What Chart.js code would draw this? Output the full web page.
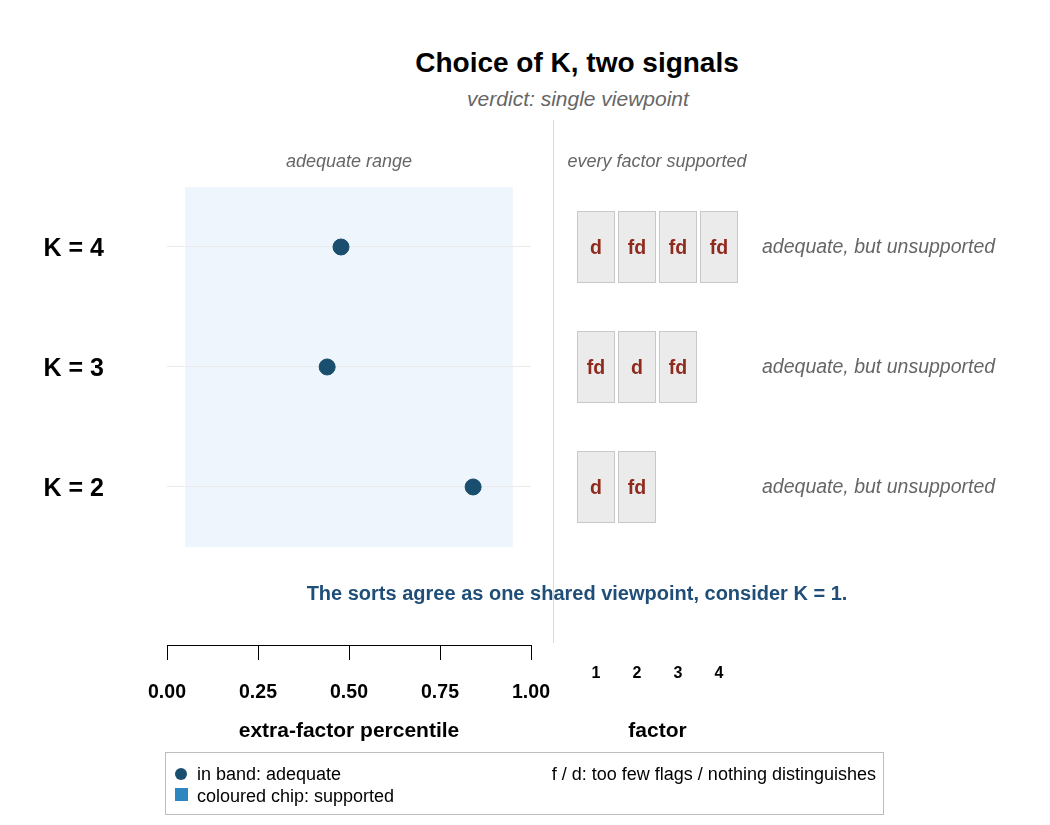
<!DOCTYPE html>
<html lang="en">
<head>
    <meta charset="UTF-8">
    <title>Choice of K, two signals</title>
    <script src="https://cdn.jsdelivr.net/npm/chart.js"></script>
    <style>
        body {
            margin: 0;
            width: 1050px;
            height: 825px;
            position: relative;
            background: #fff;
            font-family: "Liberation Sans", Arial, sans-serif;
            overflow: hidden;
        }
        .txt {
            position: absolute;
            white-space: nowrap;
            transform: translate(-50%, -50%);
        }
        #title { left: 577px; top: 63px; font-size: 28px; font-weight: bold; color: #000; }
        #subtitle { left: 578px; top: 99px; font-size: 21px; font-style: italic; color: #666; }
        #message { left: 577px; top: 593px; font-size: 20px; font-weight: bold; color: #1f4e79; }
        #sep {
            position: absolute; left: 553px; top: 120px; width: 1px; height: 523px;
            background: #d9d9d9;
        }
        canvas { position: absolute; top: 0; }
        #leftChart { left: 0; }
        #rightChart { left: 550px; }
        .legend {
            position: absolute; left: 165px; top: 752px; width: 717px; height: 61px;
            border: 1px solid #bdbdbd; font-size: 18px; color: #000;
        }
        .legend span { position: absolute; white-space: nowrap; line-height: 20px; }
        .dot { width: 12px; height: 12px; border-radius: 50%; background: #1a4e6e; }
        .sq { width: 13px; height: 13px; background: #2e86c1; }
    </style>
</head>
<body>
    <div id="title" class="txt">Choice of K, two signals</div>
    <div id="subtitle" class="txt">verdict: single viewpoint</div>
    <div id="sep"></div>
    <canvas id="leftChart" width="550" height="825"></canvas>
    <canvas id="rightChart" width="500" height="825"></canvas>
    <div id="message" class="txt">The sorts agree as one shared viewpoint, consider K = 1.</div>
    <div class="legend">
        <span class="dot" style="left:9px; top:15px;"></span>
        <span style="left:31px; top:11px;">in band: adequate</span>
        <span class="sq" style="left:9px; top:35px;"></span>
        <span style="left:31px; top:33px;">coloured chip: supported</span>
        <span style="right:7px; top:11px;">f / d: too few flags / nothing distinguishes</span>
    </div>

<script>
    // rows (K) and the extra-factor percentile for each
    const kValues = [4, 3, 2];
    const percentiles = [0.478, 0.44, 0.841];
    const bandRange = [0.05, 0.95];
    const xTicks = [0, 0.25, 0.5, 0.75, 1];

    // factor chips per row
    const factorLabels = ['1', '2', '3', '4'];
    const chipFlagsK4 = ['d', 'fd', 'fd', 'fd'];
    const chipFlagsK3 = ['fd', 'd', 'fd'];
    const chipFlagsK2 = ['d', 'fd'];
    const rowNotes = ['adequate, but unsupported', 'adequate, but unsupported', 'adequate, but unsupported'];

    const FONT = '"Liberation Sans", Arial, sans-serif';
    const yMin = 0.683, yMax = 4.5;

    // shaded adequate band, drawn under the grid
    const bandPlugin = {
        id: 'band',
        beforeDraw(chart) {
            const x = chart.scales.x, y = chart.scales.y;
            const ctx = chart.ctx;
            const top = y.getPixelForValue(Math.max(...kValues) + 0.5);
            const bottom = y.getPixelForValue(Math.min(...kValues) - 0.5);
            const left = x.getPixelForValue(bandRange[0]);
            const right = x.getPixelForValue(bandRange[1]);
            ctx.save();
            ctx.fillStyle = '#eef5fc';
            ctx.fillRect(left, top, right - left, bottom - top);
            ctx.fillStyle = '#666';
            ctx.font = 'italic 18px ' + FONT;
            ctx.textAlign = 'center';
            ctx.textBaseline = 'middle';
            ctx.fillText('adequate range', 349, 162);
            ctx.restore();
        }
    };

    new Chart(document.getElementById('leftChart'), {
        type: 'scatter',
        data: {
            datasets: [{
                data: kValues.map((k, i) => ({ x: percentiles[i], y: k })),
                backgroundColor: '#1a4e6e',
                borderColor: '#1a4e6e',
                pointRadius: 8,
                pointHoverRadius: 8
            }]
        },
        options: {
            responsive: false,
            animation: false,
            events: [],
            layout: { padding: { top: 187, right: 19, bottom: 80, left: 0 } },
            plugins: { legend: { display: false }, tooltip: { enabled: false } },
            scales: {
                x: {
                    type: 'linear', min: 0, max: 1,
                    afterBuildTicks: s => { s.ticks = xTicks.map(v => ({ value: v })); },
                    afterFit: s => { s.height = 100; s.paddingLeft = 0; s.paddingRight = 0; },
                    border: { display: true, color: '#000', width: 1 },
                    grid: { drawOnChartArea: false, drawTicks: true, tickLength: 15, color: '#000' },
                    ticks: {
                        padding: 20.5,
                        color: '#000',
                        font: { family: FONT, size: 19.5, weight: 'bold' },
                        callback: v => v.toFixed(2)
                    },
                    title: {
                        display: true, text: 'extra-factor percentile', color: '#000',
                        font: { family: FONT, size: 21, weight: 'bold' },
                        padding: { top: 0, bottom: 1.5 }
                    }
                },
                y: {
                    type: 'linear', min: yMin, max: yMax,
                    afterBuildTicks: s => { s.ticks = kValues.map(v => ({ value: v })); },
                    afterFit: s => { s.width = 167; },
                    border: { display: false },
                    grid: { color: '#ebebeb', drawTicks: false },
                    ticks: {
                        padding: 63,
                        labelOffset: 2,
                        color: '#000',
                        font: { family: FONT, size: 25, weight: 'bold' },
                        callback: v => 'K = ' + v
                    }
                }
            }
        },
        plugins: [bandPlugin]
    });

    // chip rows as floating bars
    const chipRows = [chipFlagsK4, chipFlagsK3, chipFlagsK2];
    const chipSets = chipRows.map((flags, r) => ({
        label: 'K = ' + kValues[r],
        data: flags.map((f, i) => ({ x: factorLabels[i], y: [kValues[r] - 0.3, kValues[r] + 0.3] })),
        flags: flags,
        backgroundColor: '#ebebeb',
        borderColor: '#c8c8c8',
        borderWidth: 1,
        borderSkipped: false,
        grouped: false,
        barPercentage: 0.927,
        categoryPercentage: 1
    }));

    const chipTextPlugin = {
        id: 'chipText',
        afterDatasetsDraw(chart) {
            const ctx = chart.ctx;
            const y = chart.scales.y;
            ctx.save();
            ctx.textAlign = 'center';
            ctx.textBaseline = 'middle';
            ctx.fillStyle = '#8e2a1e';
            ctx.font = 'bold 19.5px ' + FONT;
            chart.data.datasets.forEach((ds, d) => {
                chart.getDatasetMeta(d).data.forEach((bar, i) => {
                    ctx.fillText(ds.flags[i], bar.x, y.getPixelForValue(kValues[d]) + 2);
                });
            });
            ctx.fillStyle = '#666';
            ctx.font = 'italic 19.5px ' + FONT;
            ctx.textAlign = 'left';
            kValues.forEach((k, r) => {
                ctx.fillText(rowNotes[r], 212, y.getPixelForValue(k) + 1);
            });
            ctx.font = 'italic 18px ' + FONT;
            ctx.textAlign = 'center';
            ctx.fillText('every factor supported', 107, 162);
            ctx.restore();
        }
    };

    new Chart(document.getElementById('rightChart'), {
        type: 'bar',
        data: { labels: factorLabels, datasets: chipSets },
        options: {
            responsive: false,
            animation: false,
            events: [],
            layout: { padding: { top: 187, right: 310.5, bottom: 80, left: 25.5 } },
            plugins: { legend: { display: false }, tooltip: { enabled: false } },
            scales: {
                x: {
                    afterFit: s => { s.height = 100; },
                    border: { display: false },
                    grid: { display: false, drawTicks: false },
                    ticks: {
                        padding: 18.5,
                        color: '#000',
                        font: { family: FONT, size: 16, weight: 'bold' }
                    },
                    title: {
                        display: true, text: 'factor', color: '#000',
                        font: { family: FONT, size: 21, weight: 'bold' },
                        padding: { top: 0, bottom: 1.5 }
                    }
                },
                y: {
                    display: false,
                    min: yMin, max: yMax
                }
            }
        },
        plugins: [chipTextPlugin]
    });
</script>
</body>
</html>
